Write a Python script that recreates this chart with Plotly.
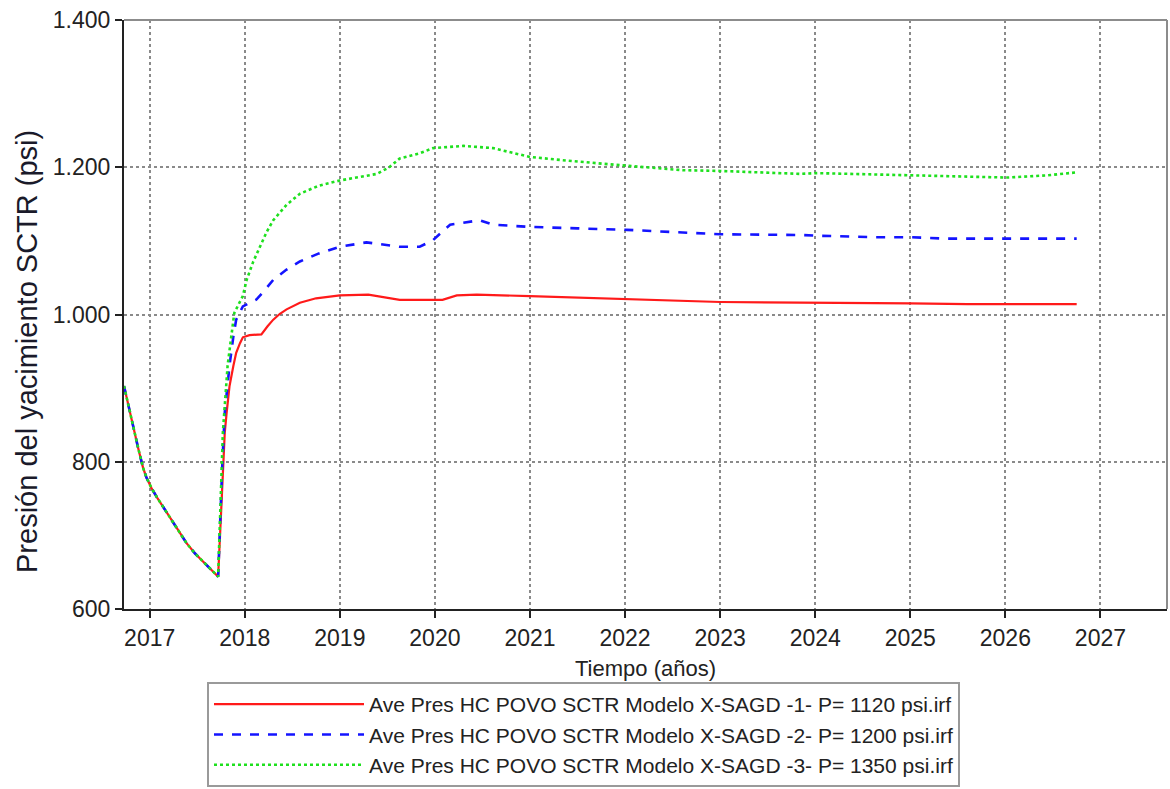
import plotly.graph_objects as go

# Shared depletion stage (all three models follow the same primary decline)
t_depletion = [2016.73, 2016.77, 2016.82, 2016.88, 2016.93, 2016.965, 2017.02, 2017.08, 2017.18,
               2017.30, 2017.39, 2017.48, 2017.56, 2017.65, 2017.72]
p_depletion = [903, 882, 852, 818, 792, 779, 764, 751, 731, 707, 689, 675, 664, 653, 644]

# Model 1 (P = 1120 psi)
t_model1 = [2017.745, 2017.77, 2017.79, 2017.81, 2017.84, 2017.88, 2017.91, 2017.95, 2017.98,
            2018.05, 2018.175, 2018.24, 2018.30, 2018.37, 2018.44, 2018.58, 2018.75, 2019.0,
            2019.3, 2019.63, 2020.08, 2020.23, 2020.44, 2021.0, 2021.5, 2022.02, 2022.5,
            2023.0, 2023.84, 2024.5, 2025.0, 2025.6, 2026.2, 2026.75]
p_model1 = [720, 800, 840, 867, 903, 930, 948, 961, 969,
            972, 973, 984, 993, 1001, 1007, 1016, 1022, 1026,
            1027, 1020, 1020, 1026, 1027, 1025, 1023, 1020, 1019,
            1017, 1016, 1016, 1015, 1014, 1014, 1014]

# Model 2 (P = 1200 psi)
t_model2 = [2017.74, 2017.765, 2017.79, 2017.84, 2017.88, 2017.91, 2017.98, 2018.05, 2018.12,
            2018.21, 2018.30, 2018.44, 2018.58, 2018.78, 2019.0, 2019.28, 2019.63, 2019.84,
            2019.98, 2020.16, 2020.47, 2020.61, 2021.0, 2021.5, 2022.02, 2022.5, 2023.0,
            2023.84, 2024.03, 2024.61, 2025.0, 2025.39, 2026.02, 2026.75]
p_model2 = [720, 800, 867, 931, 970, 993, 1011, 1015, 1020,
            1033, 1047, 1061, 1072, 1083, 1092, 1098, 1092, 1092,
            1101, 1122, 1128, 1122, 1119, 1117, 1115, 1112, 1109,
            1108, 1107, 1105, 1105, 1103, 1103, 1103]

# Model 3 (P = 1350 psi)
t_model3 = [2017.74, 2017.76, 2017.77, 2017.82, 2017.86, 2017.89, 2017.94, 2017.98, 2018.02,
            2018.09, 2018.16, 2018.23, 2018.30, 2018.44, 2018.58, 2018.78, 2019.0, 2019.39,
            2019.52, 2019.63, 2019.84, 2019.98, 2020.3, 2020.61, 2021.0, 2021.39, 2022.02,
            2022.61, 2023.0, 2023.84, 2024.03, 2024.61, 2025.0, 2025.6, 2026.02, 2026.44,
            2026.75]
p_model3 = [720, 790, 840, 931, 975, 1002, 1015, 1025, 1047,
            1072, 1092, 1112, 1128, 1149, 1164, 1175, 1182, 1191,
            1200, 1212, 1219, 1226, 1229, 1226, 1214, 1209, 1202,
            1196, 1195, 1191, 1192, 1190, 1189, 1187, 1186, 1189,
            1193]

series_names = [
    "Ave Pres HC POVO SCTR Modelo X-SAGD -1- P= 1120 psi.irf",
    "Ave Pres HC POVO SCTR Modelo X-SAGD -2- P= 1200 psi.irf",
    "Ave Pres HC POVO SCTR Modelo X-SAGD -3- P= 1350 psi.irf",
]

x_tick_vals = [2017, 2018, 2019, 2020, 2021, 2022, 2023, 2024, 2025, 2026, 2027]
y_tick_vals = [600, 800, 1000, 1200, 1400]
y_tick_text = ["600", "800", "1.000", "1.200", "1.400"]

styles = [
    dict(color="#ff1a1a", width=2.2, dash="solid"),
    dict(color="#1414ff", width=2.6, dash="dash"),
    dict(color="#1ee01e", width=2.6, dash="dot"),
]

fig = go.Figure()
for name, t, p, st in zip(series_names,
                          [t_model1, t_model2, t_model3],
                          [p_model1, p_model2, p_model3],
                          styles):
    fig.add_trace(go.Scatter(
        x=t_depletion + t, y=p_depletion + p, mode="lines", name=name,
        line=dict(color=st["color"], width=st["width"], dash=st["dash"]),
    ))

font_family = "Liberation Sans, Arial, sans-serif"
plot_h = 789 - 20 - 180
plot_w = 1170 - 124 - 3

fig.update_layout(
    width=1170, height=789,
    margin=dict(l=124, r=3, t=20, b=180, autoexpand=False),
    paper_bgcolor="white", plot_bgcolor="white",
    font=dict(family=font_family, color="#222222"),
    showlegend=True,
    legend=dict(
        x=(207 - 124) / plot_w, xanchor="left",
        y=(609 - 787) / plot_h, yanchor="bottom",
        bordercolor="#9a9a9a", borderwidth=2, bgcolor="white",
        font=dict(size=21, color="#222222"),
        itemwidth=150, tracegroupgap=0,
    ),
    xaxis=dict(
        range=[2016.73, 2027.70],
        tickvals=x_tick_vals, ticktext=[str(v) for v in x_tick_vals],
        tickfont=dict(size=23), ticks="outside", ticklen=7, tickwidth=2, tickcolor="#222",
        showline=True, linecolor="#222", linewidth=2,
        showgrid=True, gridcolor="#8a8a8a", gridwidth=1.5, griddash="dot",
        zeroline=False,
        title=dict(text="Tiempo (años)", font=dict(size=22), standoff=11),
    ),
    yaxis=dict(
        range=[600, 1400],
        tickvals=y_tick_vals, ticktext=y_tick_text,
        tickfont=dict(size=23), ticks="outside", ticklen=7, tickwidth=2, tickcolor="#222",
        showline=True, linecolor="#222", linewidth=2,
        showgrid=True, gridcolor="#8a8a8a", gridwidth=1.5, griddash="dot",
        zeroline=False,
    ),
)

# Vertical axis title, sitting slightly below the axis midpoint
fig.add_annotation(
    text="Presión del yacimiento SCTR (psi)", textangle=-90,
    xref="paper", yref="paper",
    x=(27 - 124) / plot_w, y=(609 - 352) / plot_h,
    xanchor="center", yanchor="middle", showarrow=False,
    font=dict(size=29, color="#1a1a2a"),
)

# Gray frame on the top and right edges of the plot area
fig.add_shape(type="line", xref="paper", yref="paper", x0=0, x1=1, y0=1, y1=1,
              line=dict(color="#8c8c8c", width=2))
fig.add_shape(type="line", xref="paper", yref="paper", x0=1, x1=1, y0=0, y1=1,
              line=dict(color="#8c8c8c", width=2))

fig.write_html("out.html")
